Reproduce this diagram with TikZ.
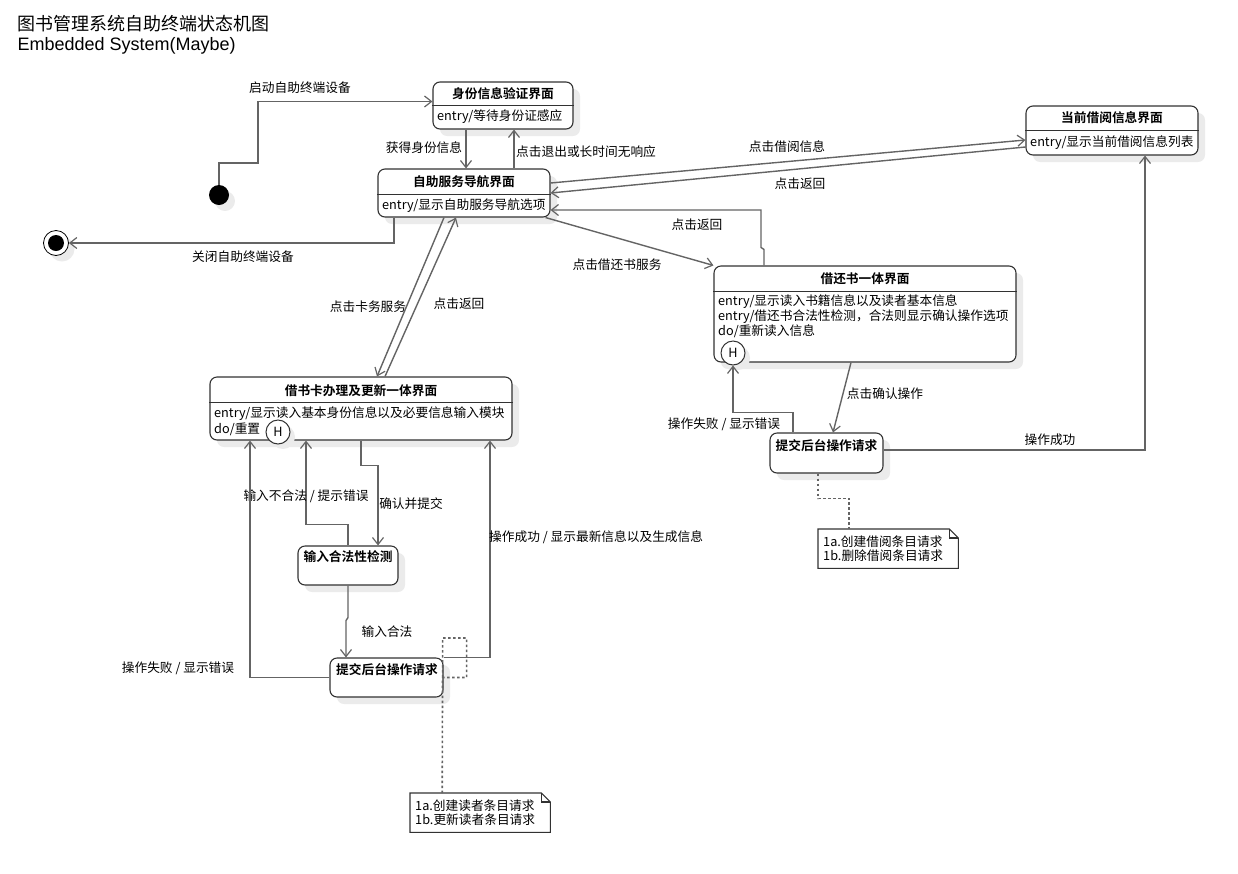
\documentclass[tikz,border=0pt]{standalone}
\usepackage{fontspec}
\setmainfont{Noto Sans CJK SC}[BoldFont={Noto Sans CJK SC Bold}]
\newfontfamily\latinfont{Liberation Sans}
\usepackage{tikz}
\usetikzlibrary{arrows.meta, calc, positioning, shadows}
\definecolor{linegray}{RGB}{100,100,100}
\definecolor{boxgray}{RGB}{50,50,50}
\definecolor{shadowgray}{RGB}{235,235,235}
\tikzset{
	every node/.style={
		align=center,
		font=\fontsize{12.7}{15}\selectfont,
	},
}
\tikzstyle{state box} = [draw=boxgray, line width=1.1pt, rounded corners=7pt, fill=white, inner sep=0pt, drop shadow={shadow xshift=7pt, shadow yshift=-7pt, fill=shadowgray, opacity=1}]
\tikzstyle{state name} = [font=\fontsize{12.7}{15}\selectfont\bfseries]
\tikzstyle{activity} = [anchor=west, inner sep=0pt]
\tikzstyle{divide} = [draw=boxgray, line width=1.1pt]
\tikzstyle{transition} = [draw=linegray, line width=1.4pt, -{Straight Barb[length=7pt, width=11pt, line width=1.2pt]}]
\tikzstyle{note link} = [draw=linegray, line width=1.6pt, dash pattern=on 2.5pt off 2.5pt]
\tikzstyle{note box} = [anchor=north west, align=left, text width=130pt, inner xsep=5pt, inner ysep=0pt, minimum height=39pt, font=\fontsize{12.7}{14.5}\selectfont]
\tikzstyle{note line} = [draw=boxgray, line width=1.1pt]
\tikzstyle{history} = [circle, draw=boxgray, line width=1pt, fill=white, minimum size=24pt, inner sep=0pt, drop shadow={shadow xshift=5pt, shadow yshift=-5pt, fill=shadowgray, opacity=1}]
\tikzstyle{start dot} = [circle, fill=black, minimum size=20pt, inner sep=0pt, drop shadow={shadow xshift=6pt, shadow yshift=-6pt, fill=shadowgray, opacity=1}]
\tikzstyle{end dot} = [circle, draw=black, line width=0.8pt, fill=white, minimum size=25pt, inner sep=0pt, path picture={\fill[black] (path picture bounding box.center) circle (8pt);}, drop shadow={shadow xshift=6pt, shadow yshift=-6pt, fill=shadowgray, opacity=1}]

\begin{document}
\begin{tikzpicture}[x=1pt, y=-1pt]
	\useasboundingbox (0,0) rectangle (1238,873);
	
	\node[anchor=base west, font=\fontsize{18}{21}\selectfont] (title) at (14,30) {图书管理系统自助终端状态机图};
	\node[anchor=base west, font=\latinfont\fontsize{18}{21}\selectfont] (subtitle) at (14,50) {Embedded System(Maybe)};
	
	% states
	\node[start dot] (start) at (219,195) {};
	\node[end dot] (final) at (56,243) {};
	
	\node[state box, minimum width=140pt, minimum height=47pt] (verify) at (503,105.5) {};
	\node[state name] (verify-t) at (503,94) {身份信息验证界面};
	\draw[divide] ($(verify.north west)+(0,24)$) -- ($(verify.north east)+(0,24)$);
	\node[activity] (verify-a) at (437,117) {entry/等待身份证感应};
	
	\node[state box, minimum width=172pt, minimum height=48pt] (nav) at (464,193) {};
	\node[state name] (nav-t) at (464,182) {自助服务导航界面};
	\draw[divide] ($(nav.north west)+(0,26)$) -- ($(nav.north east)+(0,26)$);
	\node[activity] (nav-a) at (382,206) {entry/显示自助服务导航选项};
	
	\node[state box, minimum width=172pt, minimum height=49pt] (cur) at (1112,130.5) {};
	\node[state name] (cur-t) at (1112,118) {当前借阅信息界面};
	\draw[divide] ($(cur.north west)+(0,25)$) -- ($(cur.north east)+(0,25)$);
	\node[activity] (cur-a) at (1030,143) {entry/显示当前借阅信息列表};
	
	\node[state box, minimum width=302pt, minimum height=96pt] (lend) at (865,314) {};
	\node[state name] (lend-t) at (865,279) {借还书一体界面};
	\draw[divide] ($(lend.north west)+(0,26)$) -- ($(lend.north east)+(0,26)$);
	\node[activity] (lend-a1) at (718,302) {entry/显示读入书籍信息以及读者基本信息};
	\node[activity] (lend-a2) at (718,317) {entry/借还书合法性检测，合法则显示确认操作选项};
	\node[activity] (lend-a3) at (718,331) {do/重新读入信息};
	\node[history] (histR) at (733,353) {H};
	
	\node[state box, minimum width=113pt, minimum height=40pt] (submitR) at (826.5,453) {};
	\node[state name] (submitR-t) at (826.5,446) {提交后台操作请求};
	
	\node[state box, minimum width=302pt, minimum height=63pt] (card) at (361,408.5) {};
	\node[state name] (card-t) at (361,391) {借书卡办理及更新一体界面};
	\draw[divide] ($(card.north west)+(0,26)$) -- ($(card.north east)+(0,26)$);
	\node[activity] (card-a1) at (214,414) {entry/显示读入基本身份信息以及必要信息输入模块};
	\node[activity] (card-a2) at (214,429) {do/重置};
	\node[history] (histL) at (278,432) {H};
	
	\node[state box, minimum width=100pt, minimum height=39pt] (check) at (348,565.5) {};
	\node[state name] (check-t) at (348,557) {输入合法性检测};
	
	\node[state box, minimum width=113pt, minimum height=39pt] (submitL) at (386.5,677.5) {};
	\node[state name] (submitL-t) at (387,670) {提交后台操作请求};
	
	% notes
	\node[note box] (noteR) at (818,529) {1a.创建借阅条目请求\\1b.删除借阅条目请求};
	\draw[note line] (noteR.north west) -- ([xshift=-9pt]noteR.north east) -- ([yshift=-9pt]noteR.north east) -- (noteR.south east) -- (noteR.south west) -- cycle;
	\draw[note line] ([xshift=-9pt]noteR.north east) |- ([yshift=-9pt]noteR.north east);
	
	\node[note box] (noteL) at (410,793) {1a.创建读者条目请求\\1b.更新读者条目请求};
	\draw[note line] (noteL.north west) -- ([xshift=-9pt]noteL.north east) -- ([yshift=-9pt]noteL.north east) -- (noteL.south east) -- (noteL.south west) -- cycle;
	\draw[note line] ([xshift=-9pt]noteL.north east) |- ([yshift=-9pt]noteL.north east);
	
	% transitions
	\coordinate (bend) at (258,163);
	\draw[transition] (start.north) |- (bend) |- ([yshift=4pt]verify.west);
	\node (l-start) at (300,88) {启动自助终端设备};
	
	\draw[transition] ([xshift=-37pt]verify.south) -- ([xshift=-37pt]verify.south |- nav.north);
	\node (l-id) at (424,148) {获得身份信息};
	\draw[transition] ([xshift=11pt]verify.south |- nav.north) -- ([xshift=11pt]verify.south);
	\node[anchor=west, inner sep=0pt] (l-quit) at (516,152) {点击退出或长时间无响应};
	
	\draw[transition] ([yshift=10pt]nav.east) -- ([yshift=-9.5pt]cur.west);
	\node (l-info) at (787,147) {点击借阅信息};
	\draw[transition] ([yshift=-16.5pt]cur.west) -- (nav.east);
	\node (l-back1) at (800,184) {点击返回};
	
	\draw[transition] ([xshift=-101pt]lend.north) -- ++(0,-16) -- ++(-3,-2) |- ([yshift=-17pt]nav.east);
	\node (l-back2) at (697,225) {点击返回};
	\draw[transition] ([xshift=-5pt]nav.south east) -- (lend.north west);
	\node (l-lend) at (617,265) {点击借还书服务};
	
	\draw[transition] ([xshift=-70pt]nav.south) |- (final.east);
	\node (l-close) at (243,257) {关闭自助终端设备};
	
	\draw[transition] ([xshift=-20pt]nav.south) -- ([xshift=16pt]card.north);
	\node (l-card) at (368,307) {点击卡务服务};
	\draw[transition] ([xshift=24pt]card.north) -- ([xshift=-8pt]nav.south);
	\node (l-back3) at (459,304) {点击返回};
	
	\draw[transition] ([xshift=-14pt]lend.south) -- ([xshift=6.5pt]submitR.north);
	\node (l-confirm) at (885,394) {点击确认操作};
	\draw[transition] ([xshift=-33.5pt]submitR.north) -- ++(0,-20) -| (histR.south);
	\node (l-failR) at (724,424) {操作失败 / 显示错误};
	\draw[transition] ([yshift=3pt]submitR.east) -| ([xshift=33pt]cur.south);
	\node (l-okR) at (1050,440) {操作成功};
	\draw[note link] ([xshift=-8.5pt]submitR.south) -- ++(0,25) -| ([xshift=-39pt]noteR.north);
	
	\draw[transition] (card.south) -- ++(0,25) -| ([xshift=30pt]check.north);
	\node (l-submit) at (411,504) {确认并提交};
	\draw[transition] (check.north) -- ++(0,-21) -| ([xshift=-55pt]card.south);
	\node (l-bad) at (306,496) {输入不合法 / 提示错误};
	\draw[transition] (check.south) -- ++(0,32) -- ++(-2,3) -- ([xshift=-40.5pt]submitL.north);
	\node (l-good) at (387,632) {输入合法};
	\draw[transition] (submitL.west) -| ([xshift=-111pt]card.south);
	\node (l-failL) at (178,668) {操作失败 / 显示错误};
	\draw[transition] (submitL.north east) -| ([xshift=129pt]card.south);
	\node[anchor=west, inner sep=0pt] (l-okL) at (489,537) {操作成功 / 显示最新信息以及生成信息};
	\draw[note link] ([xshift=-1pt]submitL.east) -- ++(0,-39.5) -- ++(24,0) -- ++(0,39.5) -- ++(-24,0) -- ([xshift=-38pt]noteL.north);
\end{tikzpicture}
\end{document}
